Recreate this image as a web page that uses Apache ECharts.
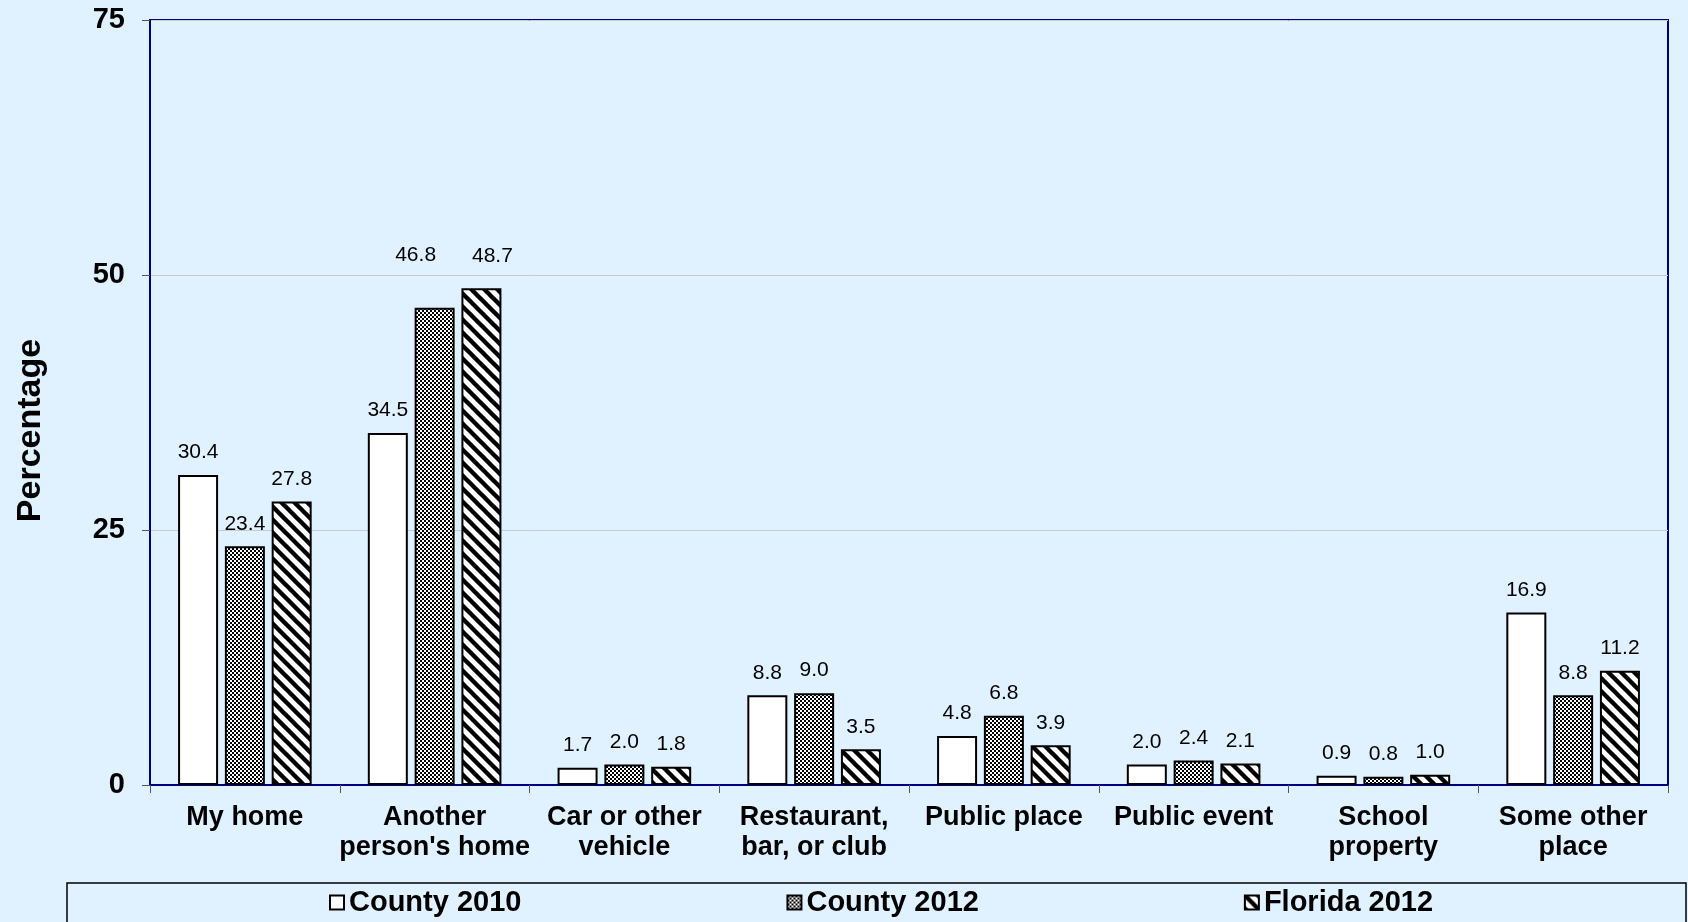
<!DOCTYPE html>
<html>
<head>
<meta charset="utf-8">
<title>Where youth drank</title>
<script src="https://cdn.jsdelivr.net/npm/echarts@6/dist/echarts.min.js"></script>
<style>
  html, body { margin: 0; padding: 0; background: #E0F2FF; }
  #chart { width: 1688px; height: 922px; }
</style>
</head>
<body>
<div id="chart"></div>
<script>
const categories = ['My home', "Another\nperson's home", 'Car or other\nvehicle', 'Restaurant,\nbar, or club',
    'Public place', 'Public event', 'School\nproperty', 'Some other\nplace']
const seriesNames = ['County 2010', 'County 2012', 'Florida 2012']
const county2010 = [30.4, 34.5, 1.7, 8.8, 4.8, 2.0, 0.9, 16.9]
const county2012 = [23.4, 46.8, 2.0, 9.0, 6.8, 2.4, 0.8, 8.8]
const florida2012 = [27.8, 48.7, 1.8, 3.5, 3.9, 2.1, 1.0, 11.2]
const yTicks = [0, 25, 50, 75]

const FONT = '"Liberation Sans", Arial, sans-serif'

// fill patterns like the excel ones
function checker(){
    const c = document.createElement('canvas')
    c.width = 4; c.height = 4
    const ctx = c.getContext('2d')
    ctx.fillStyle = '#fff'
    ctx.fillRect(0, 0, 4, 4)
    ctx.fillStyle = '#000'
    ctx.fillRect(0, 0, 2, 2)
    ctx.fillRect(2, 2, 2, 2)
    return c
}

function stripes(){
    const s = 13
    const c = document.createElement('canvas')
    c.width = s; c.height = s
    const ctx = c.getContext('2d')
    ctx.fillStyle = '#fff'
    ctx.fillRect(0, 0, s, s)
    ctx.strokeStyle = '#000'
    ctx.lineWidth = 4.4
    for(let k=-1; k<=1; k++){
        ctx.beginPath()
        ctx.moveTo(k*s - 2, -2)
        ctx.lineTo(k*s + s + 2, s + 2)
        ctx.stroke()
    }
    return c
}

const fills = ['#ffffff', {image: checker(), repeat: 'repeat'}, {image: stripes(), repeat: 'repeat'}]
const values = [county2010, county2012, florida2012]

// a couple of labels are moved in the original
const labelShift = {'1-1': [-19, -30], '2-1': [11, -10]}

function makeSeries(i){
    return {
        name: seriesNames[i],
        type: 'bar',
        barWidth: 40,
        barGap: '17%',
        itemStyle: {color: fills[i], borderColor: '#000', borderWidth: 2},
        label: {
            show: true,
            position: 'top',
            distance: 12,
            color: '#000',
            fontSize: 21,
            fontFamily: FONT,
            formatter: p => p.value.toFixed(1)
        },
        data: values[i].map((v, j) => {
            const shift = labelShift[i + '-' + j]
            return shift ? {value: v, label: {offset: shift}} : v
        })
    }
}

const chart = echarts.init(document.getElementById('chart'))
const option = {
    backgroundColor: '#E0F2FF',
    animation: false,
    textStyle: {fontFamily: FONT},
    grid: {
        left: 150, right: 20, top: 20, bottom: 137,
        show: true,
        backgroundColor: '#E0F2FF',
        borderColor: '#000080',
        borderWidth: 2
    },
    legend: {
        left: 329,
        top: 888,
        padding: 0,
        itemGap: 265,
        itemWidth: 14,
        itemHeight: 14,
        icon: 'rect',
        textStyle: {fontSize: 29, fontWeight: 'bold', color: '#000', fontFamily: FONT},
        data: seriesNames
    },
    xAxis: {
        type: 'category',
        data: categories,
        axisLine: {lineStyle: {color: '#000080', width: 2}},
        axisTick: {show: true, length: 8, lineStyle: {color: '#555'}},
        axisLabel: {
            interval: 0,
            margin: 18,
            color: '#000',
            fontSize: 27,
            fontWeight: 'bold',
            lineHeight: 30,
            fontFamily: FONT
        }
    },
    yAxis: {
        type: 'value',
        min: yTicks[0],
        max: yTicks[yTicks.length - 1],
        interval: 25,
        name: 'Percentage',
        nameLocation: 'middle',
        nameGap: 102,
        nameRotate: 90,
        nameTextStyle: {fontSize: 34, fontWeight: 'bold', color: '#000', fontFamily: FONT, padding: [0, 56, 0, 0]},
        axisLine: {show: true, lineStyle: {color: '#000080', width: 2}},
        axisTick: {show: true, length: 8, lineStyle: {color: '#555'}},
        axisLabel: {margin: 25, color: '#000', fontSize: 29, fontWeight: 'bold', fontFamily: FONT},
        splitLine: {lineStyle: {color: '#c4cbd3', width: 1}}
    },
    graphic: [{
        type: 'rect',
        shape: {x: 67, y: 883, width: 1619, height: 60},
        style: {fill: 'none', stroke: '#000', lineWidth: 1.5},
        silent: true
    }],
    series: [0, 1, 2].map(makeSeries)
}
chart.setOption(option)
</script>
</body>
</html>
